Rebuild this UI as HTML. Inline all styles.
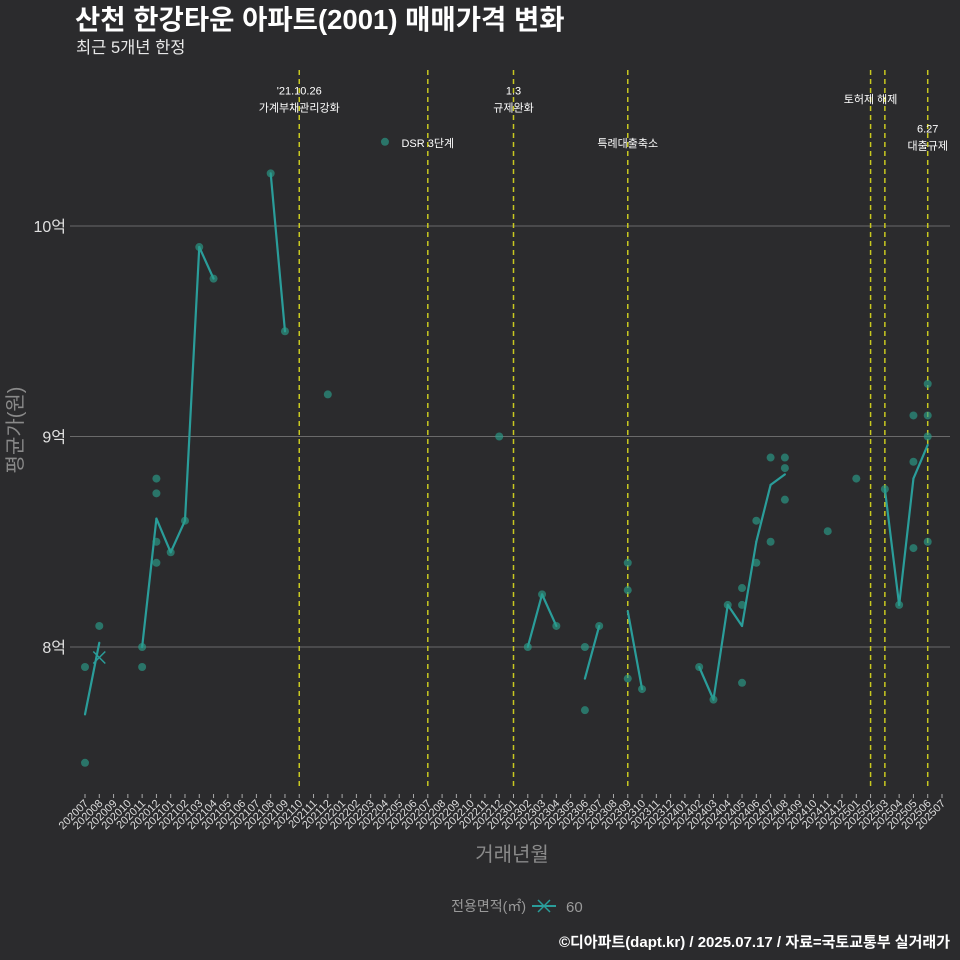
<!DOCTYPE html>
<html><head><meta charset="utf-8">
<style>
body{margin:0;background:#2b2b2d;}
svg{display:block;font-family:"Liberation Sans","Noto Sans CJK KR",sans-serif;}
</style></head>
<body>
<svg id="chart" width="960" height="960" viewBox="0 0 960 960" xmlns="http://www.w3.org/2000/svg">
<rect width="960" height="960" fill="#2b2b2d"/>
<text x="75" y="29" fill="#ffffff" font-size="27.5" font-weight="bold">산천 한강타운 아파트(2001) 매매가격 변화</text>
<text x="76" y="53" fill="#e8e8e8" font-size="16.5">최근 5개년 한정</text>
<text transform="translate(22,430) rotate(-90)" text-anchor="middle" fill="#8a8a8a" font-size="20">평균가(원)</text>
<text x="512" y="861" text-anchor="middle" fill="#8a8a8a" font-size="20">거래년월</text>
<g>
<text x="526" y="911" text-anchor="end" fill="#9a9a9a" font-size="14">전용면적(㎡)</text>
<line x1="532" y1="906" x2="556" y2="906" stroke="#2a9d9a" stroke-width="2"/>
<path d="M538 900 L550 912 M550 900 L538 912" stroke="#2a9d9a" stroke-width="1.5"/>
<text x="566" y="912" fill="#9a9a9a" font-size="15">60</text>
</g>
<text x="950" y="947" text-anchor="end" fill="#ffffff" font-size="15" font-weight="bold">©디아파트(dapt.kr) / 2025.07.17 / 자료=국토교통부 실거래가</text>
<g id="grid"></g><g id="xaxis"></g><g id="vlines"></g><g id="lines"></g><g id="dots"></g>
</svg>
<script>
const months=[];
for(let y=2020;y<=2025;y++)for(let m=1;m<=12;m++){const k=y*100+m;if(k>=202007&&k<=202507)months.push(String(k));}
const yTicks=[8,9,10];
const yTickLabels=["8억","9억","10억"];
const lineMonths=["202007","202008","202011","202012","202101","202102","202103","202104","202108","202109","202302","202303","202304","202306","202307","202309","202310","202402","202403","202404","202405","202406","202407","202408","202503","202504","202505","202506"];
const lineValues=[7.68,8.02,8.0,8.61,8.45,8.60,9.90,9.75,10.25,9.50,8.0,8.25,8.10,7.85,8.10,8.17,7.80,7.905,7.75,8.20,8.10,8.50,8.77,8.82,8.75,8.20,8.80,8.96];
const dotMonths=["202007","202007","202008","202011","202011","202012","202012","202012","202012","202101","202102","202103","202104","202108","202109","202112","202204","202212","202302","202303","202304","202306","202306","202307","202309","202309","202309","202310","202402","202403","202404","202405","202405","202405","202406","202406","202407","202407","202408","202408","202408","202411","202501","202503","202504","202505","202505","202505","202506","202506","202506","202506"];
const dotValues=[7.905,7.45,8.10,8.0,7.905,8.80,8.73,8.50,8.40,8.45,8.60,9.90,9.75,10.25,9.50,9.20,10.40,9.0,8.0,8.25,8.10,8.0,7.70,8.10,8.40,8.27,7.85,7.80,7.905,7.75,8.20,8.20,8.28,7.83,8.40,8.60,8.90,8.50,8.90,8.85,8.70,8.55,8.80,8.75,8.20,9.10,8.88,8.47,9.25,9.10,9.0,8.50];
const crossMonths=["202008"];
const crossValues=[7.95];
const eventMonths=["202110","202207","202301","202309","202502","202503","202506"];
const annotations=[
 {m:"202110",v:10.625,lines:["'21.10.26","가계부채관리강화"],anchor:"middle"},
 {m:"202207",v:10.375,lines:["DSR 3단계"],anchor:"middle"},
 {m:"202301",v:10.625,lines:["1.3","규제완화"],anchor:"middle"},
 {m:"202309",v:10.375,lines:["특례대출축소"],anchor:"middle"},
 {m:"202502",v:10.585,lines:["토허제 해제"],anchor:"middle"},
 {m:"202506",v:10.445,lines:["6.27","대출규제"],anchor:"middle"}
];
const NS="http://www.w3.org/2000/svg";
const X0=85,STEP=(942-85)/60,PL=70,PR=950,PT=65,PB=790;
function xs(m){return X0+months.indexOf(m)*STEP;}
function ys(v){return 647-(v-8)*210.5;}
function mk(t,a,p){const e=document.createElementNS(NS,t);for(const k in a)e.setAttribute(k,a[k]);p.appendChild(e);return e;}
const grid=document.getElementById('grid');
yTicks.forEach((t,i)=>{
 const l=mk('line',{x1:PL,x2:PR,y1:ys(t),y2:ys(t),stroke:'#6a6a6a','stroke-width':1},grid);
 
 
 const tx=mk('text',{x:66,y:ys(t)+6,'text-anchor':'end',fill:'#e0e0e0','font-size':16},grid);
 tx.textContent=yTickLabels[i];
 
 
});
const xa=document.getElementById('xaxis');
months.forEach(m=>{
 const x=xs(m);
 const t=mk('line',{x1:x,x2:x,y1:794,y2:798,stroke:'#aaaaaa'},xa);
 
 
 const tx=mk('text',{transform:`translate(${x+4},${804}) rotate(-45)`,'text-anchor':'end',fill:'#dddddd','font-size':11},xa);
 tx.textContent=m;
 
 
});
const vl=document.getElementById('vlines');
eventMonths.forEach(m=>{
 const l=mk('line',{x1:xs(m),x2:xs(m),y1:PT+5,y2:PB,stroke:'#c8c820','stroke-width':1.5,'stroke-dasharray':'5,4'},vl);
 
 
});
annotations.forEach(a=>{
 const tx=mk('text',{x:xs(a.m),y:ys(a.v),'text-anchor':a.anchor,fill:'#ffffff','font-size':11},vl);
 a.lines.forEach((s,i)=>{const sp=mk('tspan',{x:xs(a.m),dy:i?17:0},tx);sp.textContent=s;});
 
 
});
const lg=document.getElementById('lines');
for(let i=1;i<lineMonths.length;i++){
 const a=months.indexOf(lineMonths[i-1]),b=months.indexOf(lineMonths[i]);
 if(b-a!==1)continue;
 const l=mk('line',{x1:xs(lineMonths[i-1]),y1:ys(lineValues[i-1]),x2:xs(lineMonths[i]),y2:ys(lineValues[i]),stroke:'#2a9d9a','stroke-width':2.2,'stroke-linecap':'round'},lg);
 
 
}
const dg=document.getElementById('dots');
dotMonths.forEach((m,i)=>{
 const c=mk('circle',{cx:xs(m),cy:ys(dotValues[i]),r:4,fill:'#2a9d8a','fill-opacity':0.65},dg);
 
 
});
crossMonths.forEach((m,i)=>{
 const x=xs(m),y=ys(crossValues[i]);
 const p=mk('path',{d:`M${x-6} ${y-6} L${x+6} ${y+6} M${x+6} ${y-6} L${x-6} ${y+6}`,stroke:'#2a9d9a','stroke-width':1.5},dg);
 
 
});
</script>
</body></html>
